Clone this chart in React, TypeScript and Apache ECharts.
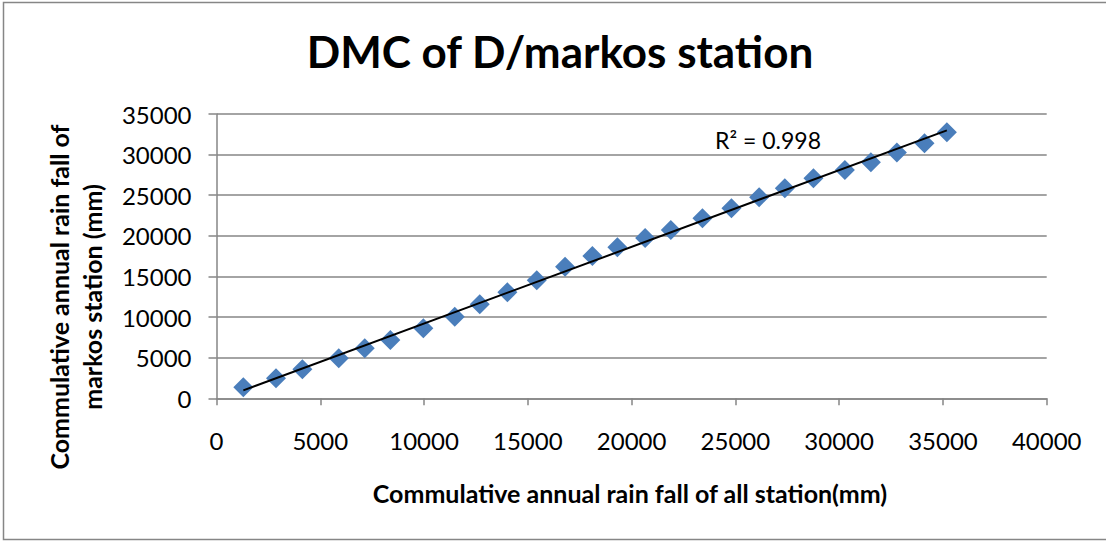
import React, { useEffect, useRef } from "react";
import * as echarts from "echarts";

const allStation: number[] = [
  1292, 2868, 4137, 5889, 7142, 8376, 9966, 11480, 12684, 14015, 15431, 16795, 18111,
  19316, 20651, 21889, 23412, 24810, 26145, 27383, 28761, 30275, 31528, 32781, 34111, 35190,
];
const markosStation: number[] = [
  1355, 2463, 3571, 4926, 6158, 7180, 8621, 10049, 11576, 13054, 14532, 16207, 17525,
  18596, 19741, 20727, 22167, 23399, 24754, 25862, 27094, 28116, 29064, 30246, 31404, 32759,
];
const titleText = "DMC of D/markos station";
const xAxisTitle = "Commulative annual rain fall of all station(mm)";
const yAxisTitle = "Commulative annual rain fall of\nmarkos station (mm)";
const r2Text = "R² = 0.998";

function linearFit(xs: number[], ys: number[]) {
  const n = xs.length;
  let sx = 0, sy = 0, sxx = 0, sxy = 0;
  for (let i = 0; i < n; i++) {
    sx += xs[i]; sy += ys[i]; sxx += xs[i] * xs[i]; sxy += xs[i] * ys[i];
  }
  const slope = (n * sxy - sx * sy) / (n * sxx - sx * sx);
  const intercept = (sy - slope * sx) / n;
  return { slope, intercept };
}

export default function App() {
  const ref = useRef<HTMLDivElement>(null);
  useEffect(() => {
    document.body.style.margin = "0";
    const chart = echarts.init(ref.current!, undefined, { renderer: "svg" });
    const { slope, intercept } = linearFit(allStation, markosStation);
    const xMin = Math.min(...allStation);
    const xMax = Math.max(...allStation);
    const font = "Lato, 'Open Sans', sans-serif";
    const grey = "#868686";
    const plain = (v: number) => String(v);
    chart.setOption({
      animation: false,
      backgroundColor: "#ffffff",
      title: {
        text: titleText,
        left: 555,
        textAlign: "center",
        top: 24,
        textStyle: { fontFamily: font, fontWeight: "bold", fontSize: 44, color: "#000" },
      },
      grid: { left: 216.5, right: 59.3, top: 114, bottom: 143.7, containLabel: false },
      xAxis: {
        type: "value",
        min: 0,
        max: 40000,
        interval: 5000,
        axisLine: { show: true, onZero: false, lineStyle: { color: grey, width: 1.5 } },
        axisTick: { show: true, length: 7, lineStyle: { color: grey, width: 1.5 } },
        splitLine: { show: false },
        axisLabel: { margin: 30, fontFamily: font, fontSize: 24, color: "#000", formatter: plain },
      },
      yAxis: {
        type: "value",
        min: 0,
        max: 35000,
        interval: 5000,
        axisLine: { show: true, onZero: false, lineStyle: { color: grey, width: 1.5 } },
        axisTick: { show: true, length: 8, lineStyle: { color: grey, width: 1.5 } },
        splitLine: { show: true, lineStyle: { color: grey, width: 1.5 } },
        axisLabel: { margin: 25, fontFamily: font, fontSize: 24, color: "#000", formatter: plain },
      },
      graphic: [
        {
          type: "rect",
          silent: true,
          shape: { x: 3.5, y: 2.5, width: 1120, height: 537 },
          style: { fill: "none", stroke: grey, lineWidth: 1.5 },
        },
        {
          type: "text",
          x: 630,
          y: 493,
          style: {
            text: xAxisTitle,
            font: `bold 25px ${font}`,
            fill: "#000",
            align: "center",
            verticalAlign: "middle",
          },
        },
        {
          type: "text",
          x: 75,
          y: 297,
          rotation: Math.PI / 2,
          style: {
            text: yAxisTitle,
            font: `bold 25px ${font}`,
            lineHeight: 33,
            fill: "#000",
            align: "center",
            verticalAlign: "middle",
          },
        },
        {
          type: "text",
          x: 768,
          y: 140,
          style: {
            text: r2Text,
            font: `23px ${font}`,
            fill: "#000",
            align: "center",
            verticalAlign: "middle",
          },
        },
      ],
      series: [
        {
          type: "line",
          data: [
            [xMin, slope * xMin + intercept],
            [xMax, slope * xMax + intercept],
          ],
          symbol: "none",
          lineStyle: { color: "#000", width: 2 },
          z: 3,
        },
        {
          type: "scatter",
          data: allStation.map((x, i) => [x, markosStation[i]]),
          symbol: "diamond",
          symbolSize: 20,
          itemStyle: { color: "#4a7ebb", opacity: 1 },
          z: 2,
        },
      ],
    });
    return () => chart.dispose();
  }, []);
  return <div ref={ref} style={{ position: "absolute", left: 0, top: 0, width: 1106, height: 542 }} />;
}
